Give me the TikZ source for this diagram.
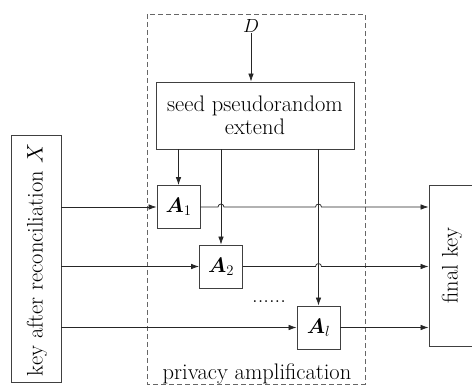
\RequirePackage{fix-cm}
\documentclass[tikz,border=0pt]{standalone}
\usepackage{amsmath,bm}
\usepackage{fontspec}
\usetikzlibrary{arrows.meta,calc}
\newcommand{\bigtxt}{\fontsize{22.5}{23}\selectfont}
\newcommand{\mathtxt}{\fontsize{21}{22}\selectfont}
\newcommand{\smalltxt}{\fontsize{19}{20}\selectfont}
\begin{document}
\begin{tikzpicture}[x=1pt,y=-1pt,
  box/.style={draw=black!75, line width=0.8pt, inner sep=0pt, font=\bigtxt},
  ab/.style={box, minimum width=43pt, minimum height=43pt, font=\mathtxt},
  lbl/.style={font=\bigtxt, inner sep=0pt},
  conn/.style={draw=black!85, line width=0.75pt, -{Latex[length=8pt,width=5.5pt]}},
  jump/.style={start angle=180, end angle=0, radius=3pt}]
\useasboundingbox (0,0) rectangle (472,385);
\clip (0,0) rectangle (472,385);
% privacy amplification frame
\draw[dash pattern=on 5pt off 3pt, draw=black!60, line width=0.7pt] (147,14) rectangle (365,384);
% nodes
\node[lbl, font=\smalltxt, anchor=base] (D) at (251,33) {$D$};
\node[box, minimum width=198pt, minimum height=67pt, align=center] (seed) at (255,115.5) {seed pseudorandom\\extend};
\node[box, minimum width=50pt, minimum height=247pt] (kx) at (36,258.5) {};
\node[lbl, rotate=90] (kxl) at (37,260) {key after reconciliation $X$};
\node[ab] (A1) at (178.5,207) {$\bm{A}_1$};
\node[ab] (A2) at (221,266.5) {$\bm{A}_2$};
\node[ab] (Al) at (318.5,327.5) {$\bm{A}_l$};
\node[box, minimum width=47pt, minimum height=161pt] (fk) at (452.5,265.5) {};
\node[lbl, rotate=90] (fkl) at (452,265.5) {final key};
\node[lbl, anchor=base] (dots) at (269,302) {......};
\node[lbl, anchor=base] (pa) at (257,379) {privacy amplification};
% connectors
\draw[conn] (D.south) -- (D.south |- seed.north);
\draw[conn] (seed.south -| A1.north) -- (A1.north);
\draw[conn] (seed.south -| A2.north) -- (A2.north);
\draw[conn] (seed.south -| Al.north) -- (Al.north);
\draw[conn] (A1.west -| kx.east) -- (A1.west);
\draw[conn] (A2.west -| kx.east) -- (A2.west);
\draw[conn] (Al.west -| kx.east) -- (Al.west);
\draw[conn] (A1.east) -- ($(A2.north |- A1.east)+(-3pt,0)$) arc[jump]
  -- ($(Al.north |- A1.east)+(-3pt,0)$) arc[jump] -- (A1.east -| fk.west);
\draw[conn] (A2.east) -- ($(Al.north |- A2.east)+(-3pt,0)$) arc[jump] -- (A2.east -| fk.west);
\draw[conn] (Al.east) -- (Al.east -| fk.west);
\end{tikzpicture}
\end{document}
